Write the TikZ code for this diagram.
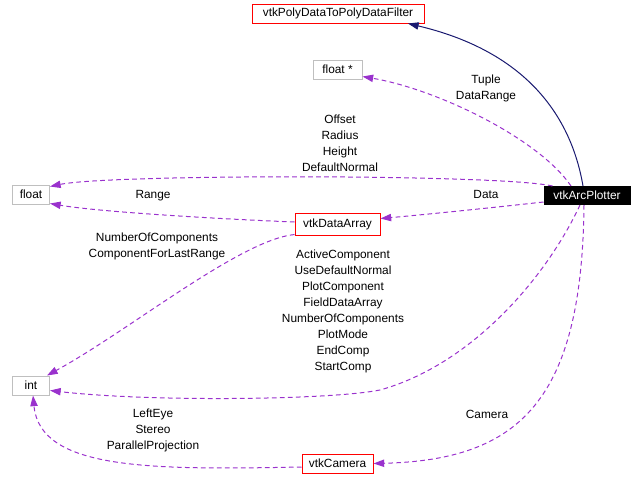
\documentclass[tikz,border=0pt]{standalone}
\usepackage{fontspec}
\setmainfont{Liberation Sans}
\usetikzlibrary{arrows.meta,calc}
\definecolor{edgepurple}{HTML}{9A32CD}
\definecolor{edgenavy}{HTML}{191970}
\definecolor{boxgrey}{HTML}{BFBFBF}
\begin{document}
\begin{tikzpicture}[x=0.75pt,y=-0.75pt,
  font=\fontsize{8.9}{12}\selectfont,
  redbox/.style={draw=red, line width=0.75pt, inner sep=0pt, text=black},
  greybox/.style={draw=boxgrey, line width=0.75pt, inner sep=0pt, text=black},
  mainbox/.style={fill=black, draw=black, line width=0.75pt, inner sep=0pt, text=white},
  lbl/.style={align=center, inner sep=0pt, text=black},
  usage/.style={draw=edgepurple, line width=0.75pt, dash pattern=on 3.5pt off 2.5pt,
    -{Triangle[length=8pt,width=5.5pt,fill=edgepurple]}},
  inherit/.style={draw=edgenavy, line width=0.75pt,
    -{Triangle[length=8pt,width=5.5pt,fill=edgenavy]}}]
\useasboundingbox (0,0) rectangle (642,497);

% nodes
\node[redbox, minimum width=172*0.75pt, minimum height=19*0.75pt] (poly) at (338,13.5) {vtkPolyDataToPolyDataFilter};
\node[greybox, minimum width=49*0.75pt, minimum height=19*0.75pt] (floatp) at (337.5,69.5) {float *};
\node[greybox, minimum width=37*0.75pt, minimum height=19*0.75pt] (float) at (31,194.5) {float};
\node[mainbox, minimum width=86*0.75pt, minimum height=18*0.75pt] (arc) at (587,195.5) {vtkArcPlotter};
\node[redbox, minimum width=85*0.75pt, minimum height=22*0.75pt] (dataarray) at (337.5,224) {vtkDataArray};
\node[greybox, minimum width=37*0.75pt, minimum height=19*0.75pt] (int) at (31,385.5) {int};
\node[redbox, minimum width=71*0.75pt, minimum height=19*0.75pt] (camera) at (337.5,463.5) {vtkCamera};

% edges
\draw[inherit] ($(arc.north)+(-4,0)$) .. controls (570,110) and (520,50) .. ($(poly.south)+(70,0)$);
\draw[usage] ($(arc.north)+(-16,0)$) .. controls (540,140) and (440,90) .. ($(floatp.south east)+(0,-3)$);
\draw[usage] ($(arc.north west)+(9,0)$) .. controls (500,174) and (110,174) .. ($(float.north east)+(0,2)$);
\draw[usage] ($(arc.south west)+(0,-3)$) .. controls (480,209) and (420,215) .. ($(dataarray.north east)+(0,6)$);
\draw[usage] ($(dataarray.west)+(0,-2)$) .. controls (220,219) and (100,212) .. ($(float.south east)+(0,-1)$);
\draw[usage] ($(dataarray.south west)+(0,-1)$) .. controls (240,240) and (130,330) .. ($(int.north east)+(-3,0)$);
\draw[usage] ($(arc.south)+(-7,0)$) .. controls (545,280) and (470,365) .. (380,390) .. controls (330,400) and (150,402) .. ($(int.east)+(0,5)$);
\draw[usage] ($(arc.south)+(-3,0)$) .. controls (582,400) and (520,460) .. (camera.east);
\draw[usage] ($(camera.west)+(0,3.5)$) .. controls (150,470) and (40,470) .. ($(int.south)+(2,0)$);

% labels
\node[lbl] (ltuple) at (486,88) {Tuple\\DataRange};
\node[lbl] (loffset) at (340,143) {Offset\\Radius\\Height\\DefaultNormal};
\node[lbl] (ldata) at (486,194) {Data};
\node[lbl] (lrange) at (153,196) {Range};
\node[lbl] (lnum) at (157,246) {NumberOfComponents\\ComponentForLastRange};
\node[lbl] (lactive) at (343,311) {ActiveComponent\\UseDefaultNormal\\PlotComponent\\FieldDataArray\\NumberOfComponents\\PlotMode\\EndComp\\StartComp};
\node[lbl] (lcam) at (487,414) {Camera};
\node[lbl] (leye) at (153,430) {LeftEye\\Stereo\\ParallelProjection};
\end{tikzpicture}
\end{document}
